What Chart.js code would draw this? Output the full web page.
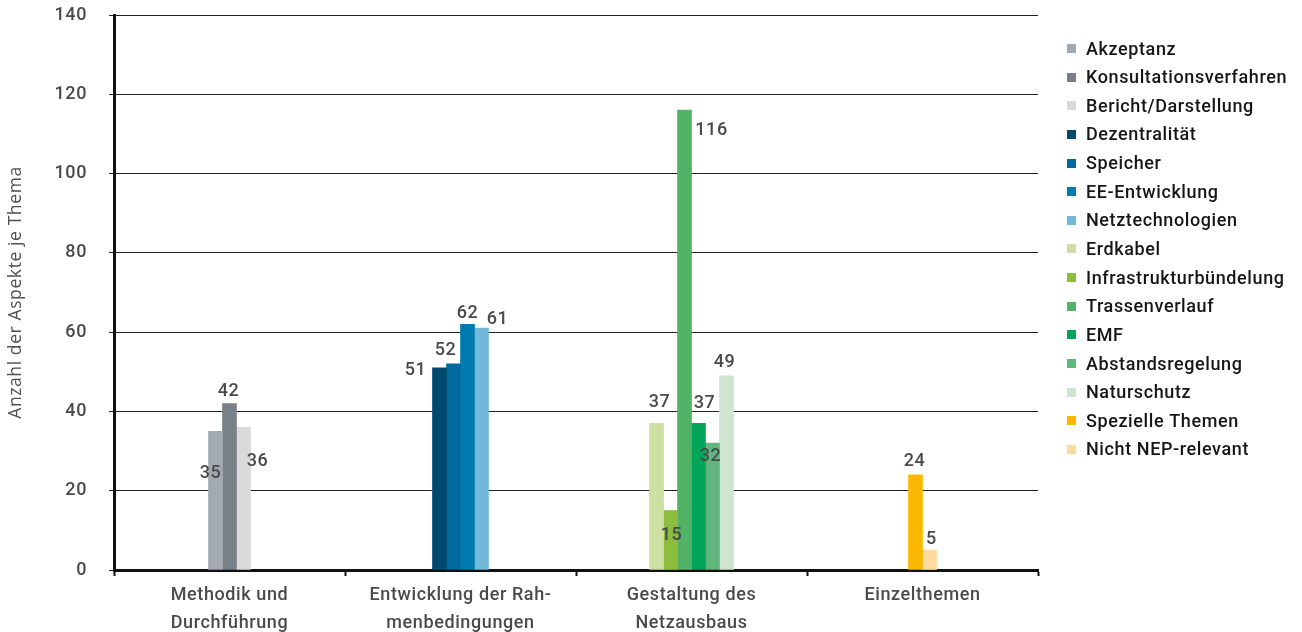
<!DOCTYPE html>
<html>
<head>
<meta charset="utf-8">
<script src="https://cdn.jsdelivr.net/npm/chart.js@4/dist/chart.umd.min.js"></script>
<style>
  html, body { margin: 0; padding: 0; background: #fff; }
  #wrap { width: 1302px; height: 632px; position: relative; }
</style>
</head>
<body>
<div id="wrap"><canvas id="chart"></canvas></div>
<script>
// --- data ---
const categories = [
    ['Methodik und', 'Durchführung'],
    ['Entwicklung der Rah-', 'menbedingungen'],
    ['Gestaltung des', 'Netzausbaus'],
    ['Einzelthemen']
];
const seriesNames = [
    'Akzeptanz', 'Konsultationsverfahren', 'Bericht/Darstellung',
    'Dezentralität', 'Speicher', 'EE-Entwicklung', 'Netztechnologien',
    'Erdkabel', 'Infrastrukturbündelung', 'Trassenverlauf', 'EMF',
    'Abstandsregelung', 'Naturschutz', 'Spezielle Themen', 'Nicht NEP-relevant'
];
// which category each series belongs to, and its count
const seriesCategory = [0, 0, 0, 1, 1, 1, 1, 2, 2, 2, 2, 2, 2, 3, 3];
const seriesValues = [35, 42, 36, 51, 52, 62, 61, 37, 15, 116, 37, 32, 49, 24, 5];
const yTicks = [0, 20, 40, 60, 80, 100, 120, 140];

// --- styles ---
const seriesColors = [
    '#a3a9b0', '#7a8088', '#d9d9d9',
    '#004a70', '#00699f', '#007bb0', '#72b8db',
    '#cddfa3', '#8cbd3c', '#52b266', '#00a55a', '#60b67c', '#cfe5d0',
    '#fbb800', '#fedb9c'
];
// value label offset from the top centre of each bar [dx, dy]
const labelOffsets = [
    [-5, 42], [-1, -12], [14, 34],
    [-24, 3], [-8, -13], [0, -11], [16, -9],
    [3, -21], [1, 25], [27, 20], [6, -20], [-2, 13], [-2, -13],
    [-1, -13], [2, -11]
];

const FONT = 'Roboto, "DejaVu Sans", sans-serif';
const GREY = '#4a4a4a';

const datasets = seriesNames.map((name, i) => ({
    label: name,
    data: categories.map((c, k) => (k === seriesCategory[i] ? seriesValues[i] : null)),
    backgroundColor: seriesColors[i],
    borderWidth: 0,
    barThickness: 14,
    skipNull: true,
    labelOffset: labelOffsets[i]
}));

// DIN-like spacing for every text drawn on the canvas
const spacing = {
    id: 'spacing',
    beforeDraw(chart) { chart.ctx.letterSpacing = '0.6px'; }
};

// draws the number next to each bar
const valueLabels = {
    id: 'valueLabels',
    afterDatasetsDraw(chart) {
        const ctx = chart.ctx;
        ctx.save();
        ctx.font = '500 18px ' + FONT;
        ctx.fillStyle = GREY;
        ctx.textAlign = 'center';
        ctx.textBaseline = 'middle';
        chart.data.datasets.forEach((ds, i) => {
            const meta = chart.getDatasetMeta(i);
            meta.data.forEach((bar, k) => {
                const v = ds.data[k];
                if (v === null) return;
                const [dx, dy] = ds.labelOffset;
                ctx.fillText(String(v), bar.x + dx, bar.y + dy);
            });
        });
        ctx.restore();
    }
};

// legend column on the right
const sideLegend = {
    id: 'sideLegend',
    afterDraw(chart) {
        const ctx = chart.ctx;
        const x0 = chart.chartArea.right + 29;
        const y0 = 49;
        const step = 28.64;
        ctx.save();
        ctx.font = '500 18px ' + FONT;
        ctx.textBaseline = 'middle';
        ctx.textAlign = 'left';
        chart.data.datasets.forEach((ds, i) => {
            const y = y0 + i * step;
            ctx.fillStyle = ds.backgroundColor;
            ctx.fillRect(x0, Math.round(y - 5), 9, 9);
            ctx.fillStyle = '#161616';
            ctx.fillText(ds.label, x0 + 19, y + 1);
        });
        ctx.restore();
    }
};

new Chart(document.getElementById('chart'), {
    type: 'bar',
    data: { labels: categories, datasets: datasets },
    options: {
        responsive: true,
        maintainAspectRatio: false,
        animation: false,
        layout: { padding: { top: 15, right: 264, left: 0, bottom: 0 } },
        plugins: {
            legend: { display: false },
            tooltip: { enabled: false }
        },
        scales: {
            x: {
                offset: true,
                grid: {
                    offset: true,
                    drawOnChartArea: false,
                    drawTicks: true,
                    tickLength: 6,
                    tickWidth: 2,
                    tickColor: '#111'
                },
                border: { display: true, color: '#111', width: 3 },
                ticks: {
                    color: GREY,
                    padding: 6,
                    maxRotation: 0,
                    font: { family: FONT, size: 18, weight: '500', lineHeight: 1.55 }
                },
                afterFit(scale) { scale.height = 62; }
            },
            y: {
                min: 0,
                max: 140,
                afterBuildTicks(scale) { scale.ticks = yTicks.map(v => ({ value: v })); },
                grid: {
                    color: '#222',
                    lineWidth: 1,
                    tickLength: 5,
                    tickColor: '#222'
                },
                border: { display: true, color: '#111', width: 3 },
                ticks: {
                    color: GREY,
                    padding: 22,
                    font: { family: FONT, size: 18, weight: '500' }
                },
                title: {
                    display: true,
                    text: 'Anzahl der Aspekte je Thema',
                    color: '#505050',
                    padding: { top: 6, bottom: 0 },
                    font: { family: '"Open Sans", sans-serif', size: 17.5 }
                },
                afterFit(scale) {
                    scale.width = 114;
                    scale.paddingTop = 0;
                    scale.paddingBottom = 0;
                }
            }
        }
    },
    plugins: [spacing, valueLabels, sideLegend]
});
</script>
</body>
</html>
